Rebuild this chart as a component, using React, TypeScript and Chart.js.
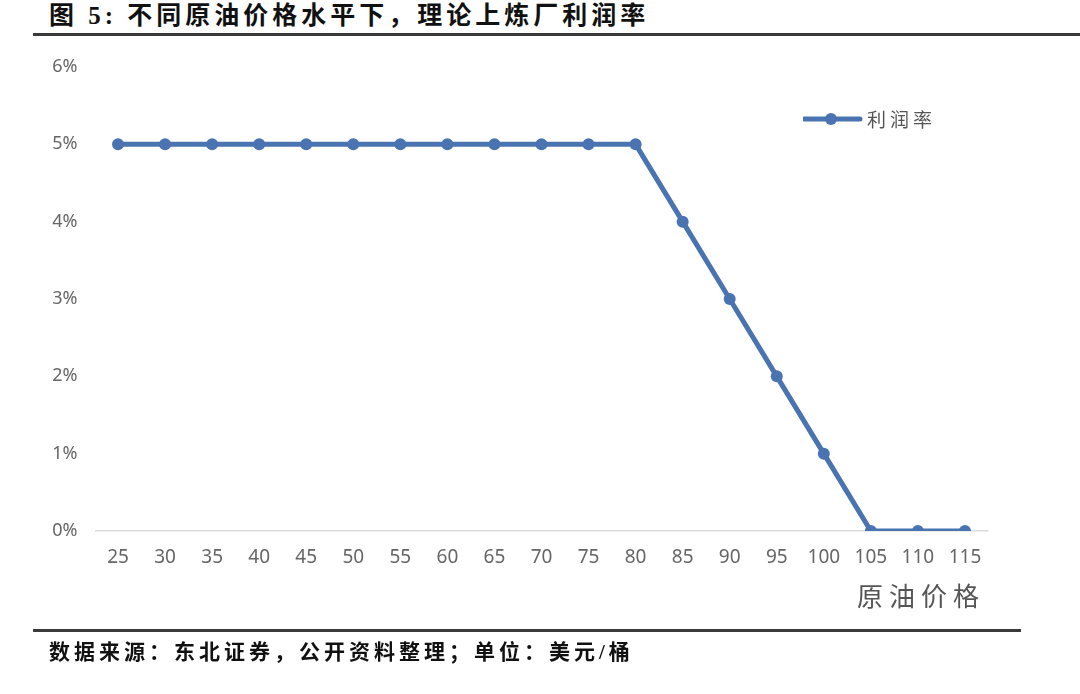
import React, { useEffect, useRef } from "react";
import { Chart, registerables } from "chart.js";

Chart.register(...registerables);

const categories = ["25", "30", "35", "40", "45", "50", "55", "60", "65", "70", "75", "80", "85", "90", "95", "100", "105", "110", "115"];
const profitRate = [5, 5, 5, 5, 5, 5, 5, 5, 5, 5, 5, 5, 4, 3, 2, 1, 0, 0, 0];
const seriesName = "利润率";
const yTicks = [0, 1, 2, 3, 4, 5, 6];
const titleText = "图 5: 不同原油价格水平下，理论上炼厂利润率";
const sourceText = "数据来源：东北证券，公开资料整理；单位：美元/桶";
const xTitle = "原油价格";

const LINE_COLOR = "#4A74B1";
const TICK_COLOR = "#666666";

export default function App() {
  const ref = useRef<HTMLCanvasElement | null>(null);

  useEffect(() => {
    document.body.style.margin = "0";
    const canvas = ref.current;
    if (!canvas) return;
    const chart = new Chart(canvas, {
      type: "line",
      data: {
        labels: categories,
        datasets: [
          {
            label: seriesName,
            data: profitRate,
            borderColor: LINE_COLOR,
            backgroundColor: LINE_COLOR,
            borderWidth: 5,
            pointRadius: 6,
            pointHoverRadius: 6,
            pointBackgroundColor: LINE_COLOR,
            pointBorderColor: LINE_COLOR,
            pointBorderWidth: 0,
            tension: 0,
          },
        ],
      },
      options: {
        responsive: false,
        animation: false,
        devicePixelRatio: 1,
        layout: { padding: { left: 0, right: 91.5, top: 67, bottom: 0 } },
        plugins: {
          legend: { display: false },
          tooltip: { enabled: false },
        },
        scales: {
          x: {
            type: "category",
            offset: true,
            grid: { display: false, drawTicks: false },
            border: { display: false },
            ticks: {
              color: TICK_COLOR,
              font: { family: "'Noto Sans', sans-serif", size: 19 },
              padding: 15,
              maxRotation: 0,
              autoSkip: false,
            },
            afterFit: (scale: any) => {
              scale.height = 163;
            },
          },
          y: {
            min: 0,
            max: 6,
            afterBuildTicks: (scale: any) => {
              scale.ticks = yTicks.map((v) => ({ value: v }));
            },
            grid: {
              drawTicks: false,
              color: (ctx: any) => (ctx.tick && ctx.tick.value === 0 ? "#d9d9d9" : "rgba(0,0,0,0)"),
              lineWidth: 1.5,
            },
            border: { display: false },
            ticks: {
              color: TICK_COLOR,
              font: { family: "'Noto Sans', sans-serif", size: 18 },
              padding: 17,
              callback: (v: any) => `${v}%`,
            },
            afterFit: (scale: any) => {
              scale.width = 94.5;
            },
          },
        },
      },
    });
    return () => chart.destroy();
  }, []);

  const serifCJK = "'Liberation Serif', 'Noto Sans CJK SC', serif";
  const sansCJK = "'Noto Sans CJK SC', sans-serif";

  return (
    <div style={{ position: "fixed", left: 0, top: 0, width: 1080, height: 694, background: "#fff", overflow: "hidden" }}>
      <div
        style={{
          position: "absolute",
          left: 49,
          top: 0,
          fontFamily: serifCJK,
          fontWeight: 700,
          fontSize: 25,
          letterSpacing: 4,
          color: "#111",
          whiteSpace: "pre",
          lineHeight: "32px",
        }}
      >
        {titleText}
      </div>
      <div style={{ position: "absolute", left: 33, top: 33, width: 1047, height: 3, background: "#3a3a3a" }} />
      <canvas ref={ref} width={1080} height={694} style={{ position: "absolute", left: 0, top: 0 }} />
      <div style={{ position: "absolute", left: 803, top: 107, width: 220, height: 24 }}>
        <svg width={60} height={24} style={{ position: "absolute", left: 0, top: 0 }}>
          <line x1={1} y1={12} x2={57} y2={12} stroke={LINE_COLOR} strokeWidth={5} strokeLinecap="round" />
          <circle cx={28} cy={12} r={6} fill={LINE_COLOR} />
        </svg>
        <div
          style={{
            position: "absolute",
            left: 64,
            top: 0,
            fontFamily: sansCJK,
            fontSize: 19,
            letterSpacing: 4,
            lineHeight: "24px",
            color: "#555",
            whiteSpace: "nowrap",
          }}
        >
          {seriesName}
        </div>
      </div>
      <div
        style={{
          position: "absolute",
          left: 857,
          top: 577,
          fontFamily: sansCJK,
          fontSize: 26,
          lineHeight: "36px",
          color: "#555",
          letterSpacing: 6,
          whiteSpace: "nowrap",
        }}
      >
        {xTitle}
      </div>
      <div style={{ position: "absolute", left: 33, top: 629, width: 988, height: 3, background: "#3a3a3a" }} />
      <div
        style={{
          position: "absolute",
          left: 49,
          top: 638,
          fontFamily: serifCJK,
          fontWeight: 700,
          fontSize: 21,
          letterSpacing: 4,
          lineHeight: "28px",
          color: "#111",
          whiteSpace: "nowrap",
        }}
      >
        {sourceText}
      </div>
    </div>
  );
}
